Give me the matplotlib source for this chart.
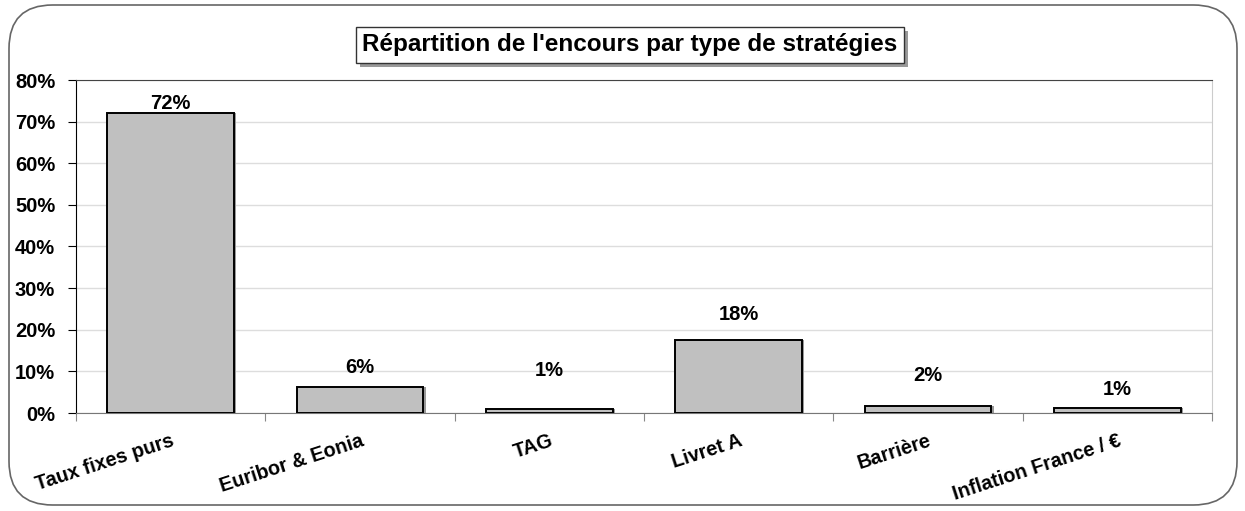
import matplotlib
matplotlib.use("Agg")
import matplotlib.pyplot as plt
from matplotlib.patches import FancyBboxPatch, Rectangle
from matplotlib.ticker import FuncFormatter, MultipleLocator
import numpy as np

categories = ["Taux fixes purs", "Euribor & Eonia", "TAG", "Livret A", "Barrière", "Inflation France / €"]
values = [72.1, 6.2, 1.0, 17.6, 1.7, 1.1]
labels = ["72%", "6%", "1%", "18%", "2%", "1%"]
label_offsets = [0, 7, 21, 11, 15, 7]  # points above bar top (styling)

plt.rcParams['font.family'] = ['Liberation Sans', 'DejaVu Sans']

fig = plt.figure(figsize=(12.45, 5.11), dpi=100)
W, H = 1245, 511

# outer rounded frame
frame = FancyBboxPatch((9 / W, 6 / H), 1228 / W, 500 / H,
                       boxstyle="round,pad=0,rounding_size=0.035",
                       transform=fig.transFigure, fill=False, edgecolor="#666666", lw=1.2,
                       mutation_aspect=W / H)
fig.patches.append(frame)

ax = fig.add_axes([76 / W, 1 - 413 / H, (1212 - 76) / W, (413 - 80) / H])
x = np.arange(len(categories))
ax.bar(x + 0.012, values, width=0.67, color="#999999", edgecolor="none", zorder=2)
ax.bar(x, values, width=0.67, color="#c0c0c0", edgecolor="black", linewidth=1.4, zorder=3)

for xi, v, lab, off in zip(x, values, labels, label_offsets):
    ax.annotate(lab, (xi, v), xytext=(0, off), textcoords="offset points",
                ha="center", va="bottom", fontsize=14.5, fontweight="bold")

ax.set_xlim(-0.5, len(categories) - 0.5)
ax.set_ylim(0, 80)
ax.yaxis.set_major_locator(MultipleLocator(10))
ax.yaxis.set_major_formatter(FuncFormatter(lambda v, p: f"{v:.0f}%"))
ax.grid(axis="y", color="#dddddd", lw=1, zorder=0)
ax.set_axisbelow(True)

ax.set_xticks(np.arange(len(categories) + 1) - 0.5, minor=False)
ax.set_xticklabels([])
ax.set_xticks(x, minor=True)
ax.set_xticklabels(categories, minor=True, rotation=18, ha="right", va="top",
                   rotation_mode="anchor", fontsize=14.3, fontweight="bold")
ax.tick_params(axis="x", which="minor", length=0, pad=13)
ax.tick_params(axis="x", which="major", length=6, direction="out", color="#888888")
ax.tick_params(axis="y", length=6, direction="out", labelsize=14.5, pad=9)
for t in ax.get_yticklabels():
    t.set_fontweight("bold")

ax.spines["left"].set_color("black")
ax.spines["bottom"].set_color("#777777")
ax.spines["top"].set_color("#444444")
ax.spines["right"].set_color("#cccccc")

# title box with shadow
title = "Répartition de l'encours par type de stratégies"
t = fig.text(630 / W, 1 - 45 / H, title, ha="center", va="center", fontsize=17.5,
             fontweight="bold", zorder=5,
             bbox=dict(boxstyle="square,pad=0.25", facecolor="white", edgecolor="#333333", lw=1))
fig.canvas.draw()
bb = t.get_bbox_patch().get_window_extent()
shadow = Rectangle(((bb.x0 + 4) / W, (bb.y0 - 4) / H), bb.width / W, bb.height / H,
                   transform=fig.transFigure, facecolor="#999999", edgecolor="none", zorder=1)
fig.patches.append(shadow)

fig.savefig("out.png", dpi=100)
